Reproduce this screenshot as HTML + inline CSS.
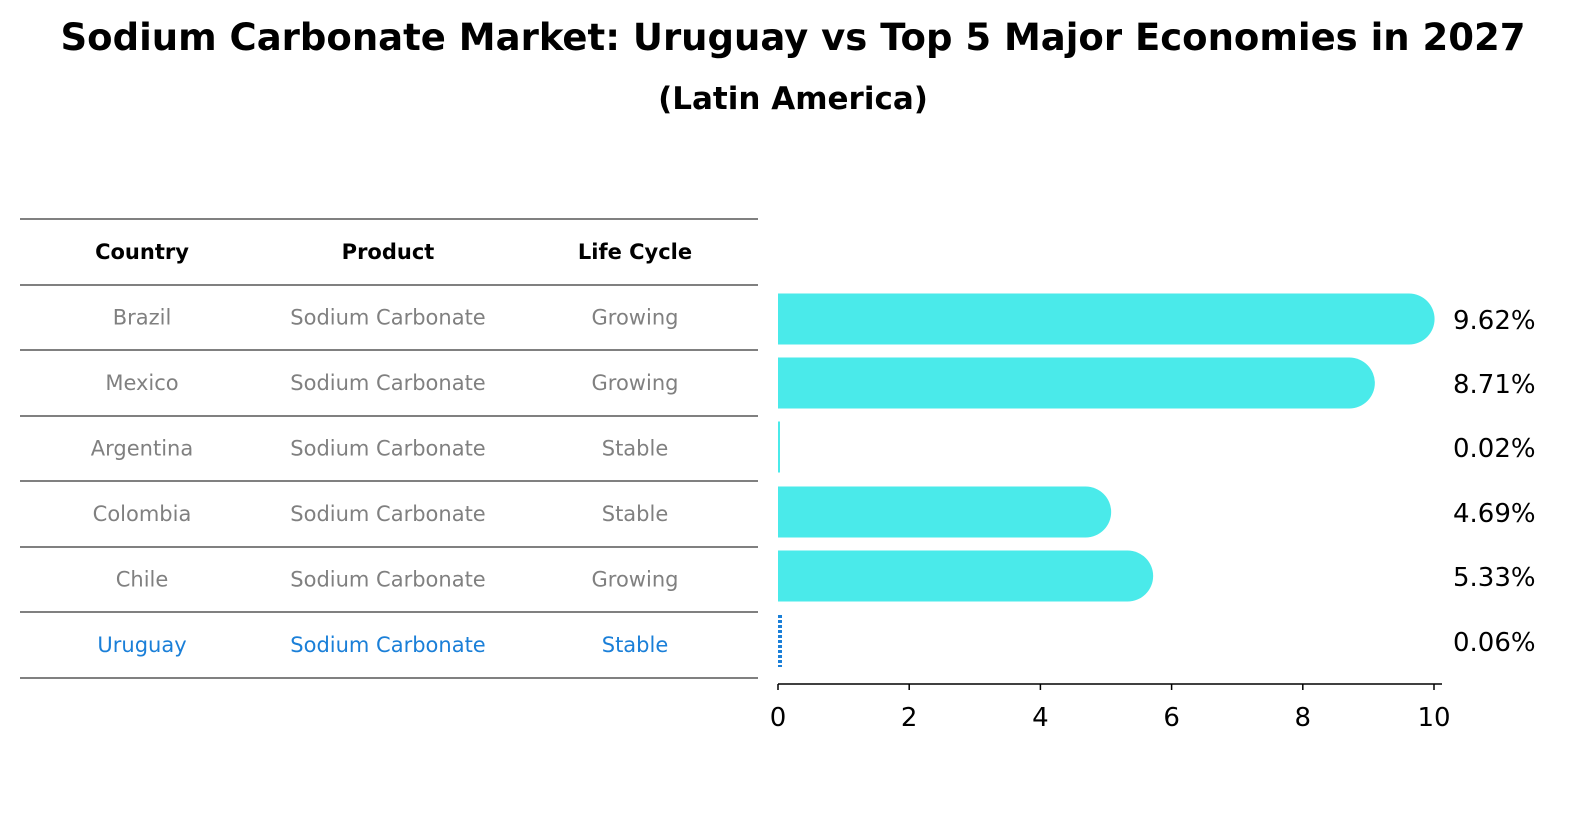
<!DOCTYPE html>
<html><head><meta charset="utf-8">
<style>
body{margin:0;background:#fff;font-family:"DejaVu Sans","Liberation Sans",sans-serif;overflow:hidden}
svg{display:block}
</style></head>
<body>
<svg width="1596" height="823" viewBox="0 0 1596 823" id="chart">
<text x="793" y="50" text-anchor="middle" font-size="37" font-weight="bold">Sodium Carbonate Market: Uruguay vs Top 5 Major Economies in 2027</text>
<text x="793" y="109" text-anchor="middle" font-size="31" font-weight="bold">(Latin America)</text>
<g id="table"></g>
<g id="bars"></g>
</svg>
<script>
const countries=["Brazil","Mexico","Argentina","Colombia","Chile","Uruguay"];
const products=["Sodium Carbonate","Sodium Carbonate","Sodium Carbonate","Sodium Carbonate","Sodium Carbonate","Sodium Carbonate"];
const lifecycle=["Growing","Growing","Stable","Stable","Growing","Stable"];
const values=[9.62,8.71,0.02,4.69,5.33,0.06];
const ticks=[0,2,4,6,8,10];
const NS="http://www.w3.org/2000/svg";
function mk(t,a,p){const e=document.createElementNS(NS,t);for(const k in a)e.setAttribute(k,a[k]);p.appendChild(e);return e;}
const tbl=document.getElementById('table');
const lineY=[219,285,350,416,481,547,612,678];
lineY.forEach(y=>{const l=mk('line',{x1:20,x2:758,y1:y,y2:y,stroke:'#000','stroke-width':1},tbl);

});
const colX=[142,388,635];
["Country","Product","Life Cycle"].forEach((h,i)=>{const t=mk('text',{x:colX[i],y:259,'text-anchor':'middle','font-size':21,'font-weight':'bold'},tbl);t.textContent=h;

});
countries.forEach((c,r)=>{const y=(lineY[r+1]+lineY[r+2])/2+7;const col=c==="Uruguay"?'#1a7fd8':'#808080';
[c,products[r],lifecycle[r]].forEach((v,i)=>{const t=mk('text',{x:colX[i],y:y,'text-anchor':'middle','font-size':21,fill:col},tbl);t.textContent=v;

});});
const g=document.getElementById('bars');
const x0=778,x1=1434;const xs=v=>x0+(x1-x0)*v/10;
const rowC=[319,383,447,512,576,641];const bh=51,rad=25.5;
values.forEach((v,i)=>{const cy=rowC[i];const xe=xs(v);
if(countries[i]==="Uruguay"){const l=mk('line',{x1:x0+2,x2:x0+2,y1:cy-26,y2:cy+26,stroke:'#1a7fd8','stroke-width':4,'stroke-dasharray':'3 2'},g);

}
else if(v<0.1){const r=mk('rect',{x:x0,y:cy-bh/2,width:Math.max(2,xe-x0),height:bh,fill:'#4aeaea'},g);

}
else{const p=mk('path',{d:`M${x0},${cy-bh/2} H${xe} A${rad},${rad} 0 0 1 ${xe},${cy+bh/2} H${x0} Z`,fill:'#4aeaea'},g);

}
const t=mk('text',{x:1453,y:cy+10,'font-size':26},g);t.textContent=v.toFixed(2)+'%';

});
const ax=mk('line',{x1:x0,x2:1442,y1:684,y2:684,stroke:'#000','stroke-width':1.5},g);


ticks.forEach(tv=>{const x=xs(tv);const l=mk('line',{x1:x,x2:x,y1:684,y2:690,stroke:'#000','stroke-width':1.5},g);


const t=mk('text',{x:x,y:726,'text-anchor':'middle','font-size':26},g);t.textContent=tv;

});
</script>
</body></html>
